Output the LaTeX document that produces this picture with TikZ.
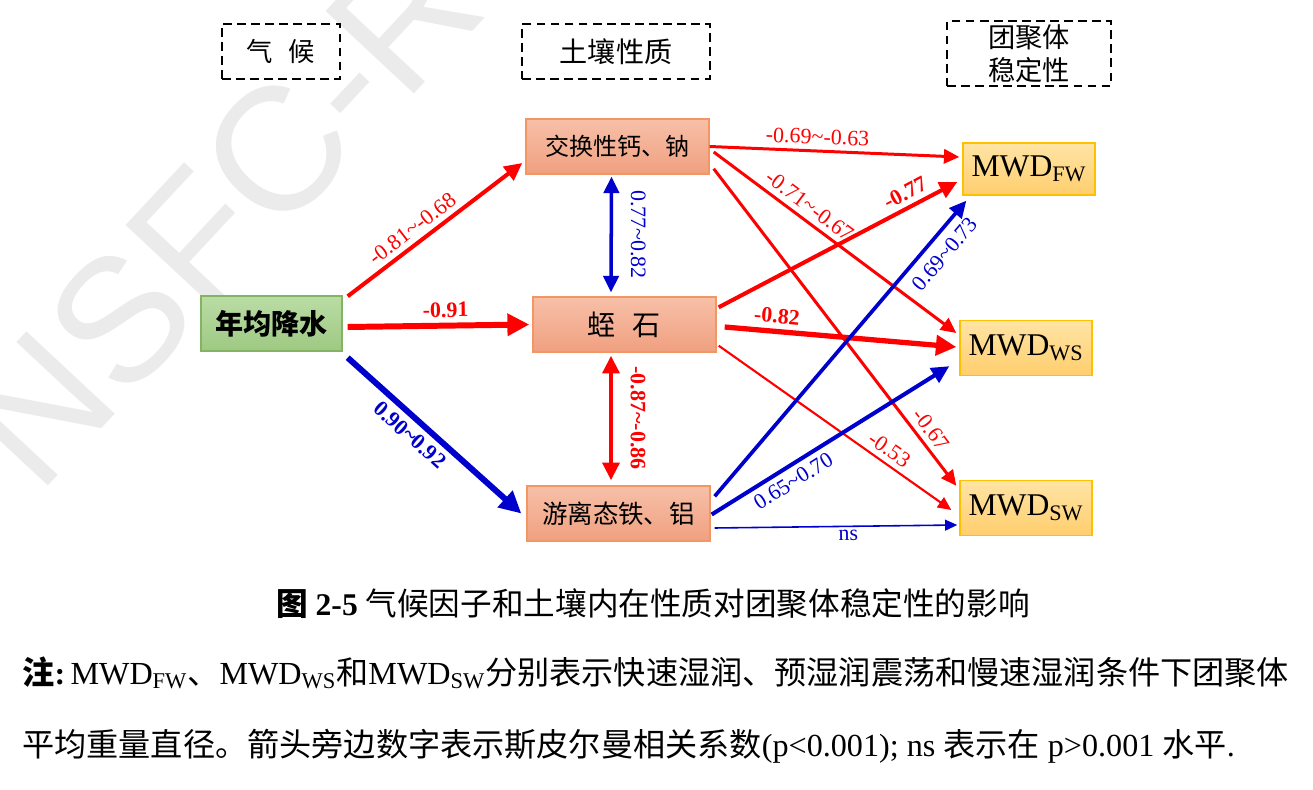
\documentclass[tikz,border=0pt]{standalone}
\usepackage{fontspec}
\setmainfont{Liberation Serif}
\newfontfamily\cjk{Noto Sans CJK SC}
\newfontfamily\wmfont{Liberation Sans}
\usetikzlibrary{arrows.meta}

\definecolor{rd}{RGB}{255,0,0}
\definecolor{bl}{RGB}{0,0,204}
\definecolor{grnT}{RGB}{186,220,165}
\definecolor{grnB}{RGB}{158,201,130}
\definecolor{grnD}{RGB}{130,180,100}
\definecolor{salT}{RGB}{247,192,168}
\definecolor{salB}{RGB}{240,160,128}
\definecolor{salD}{RGB}{244,150,100}
\definecolor{golT}{RGB}{255,228,165}
\definecolor{golB}{RGB}{255,206,110}
\definecolor{golD}{RGB}{255,192,0}
\newcommand{\tld}{\textasciitilde}

\begin{document}
\begin{tikzpicture}[
  x=0.02cm, y=-0.02cm,
  hdr/.style={draw, line width=1.1pt, dash pattern=on 5pt off 3pt, align=center,
              inner sep=2pt, font=\cjk\fontsize{15}{17}\selectfont},
  var/.style={draw, line width=0.8pt, align=center, inner sep=2pt, minimum height=1.1cm},
  clim/.style={var, top color=grnT, bottom color=grnB, draw=grnD},
  soilp/.style={var, top color=salT, bottom color=salB, draw=salD, minimum width=3.66cm},
  mwd/.style={var, top color=golT, bottom color=golB, draw=golD, minimum width=2.64cm,
              font=\fontsize{18}{20}\selectfont},
  fl/.style={line width=#1, -{Triangle[length=5pt 2.2, width=4pt 2.4]}},
  dfl/.style={line width=#1, {Triangle[length=5pt 2.2, width=4pt 2.4]}-{Triangle[length=5pt 2.2, width=4pt 2.4]}},
  lab/.style={font=\fontsize{12.5}{14}\selectfont, inner sep=3pt},
  blab/.style={font=\fontsize{12.5}{14}\selectfont\bfseries, inner sep=3pt},
  wm/.style={font=\wmfont\fontsize{100}{100}\selectfont, text=black!8, inner sep=0pt}
]
\useasboundingbox (0,0) rectangle (1313,790);

% ---------- watermark ----------
\begin{scope}
  \clip (0,0) rectangle (1313,790);
  \node[wm, rotate=47, anchor=base west] (wmk) at (38,497) {NSFC-R};
\end{scope}

% ---------- group headings ----------
\node[hdr, minimum width=2.36cm, minimum height=1.1cm] (hclim) at (281,51.5) {气\hspace{0.6em}候};
\node[hdr, minimum width=3.76cm, minimum height=1.1cm, font=\cjk\fontsize{16}{18}\selectfont] (hsoil) at (616,51.5) {土壤性质};
\node[hdr, minimum width=3.28cm, minimum height=1.3cm, font=\cjk\fontsize{15.5}{18.5}\selectfont] (hagg) at (1029,53.5) {团聚体\\稳定性};

% ---------- variables ----------
\node[clim, minimum width=2.82cm, font=\cjk\bfseries\fontsize{16}{18}\selectfont] (prec) at (271.5,323.5) {年均降水};
\node[soilp, font=\cjk\fontsize{13.7}{16}\selectfont] (exch) at (617.5,146.5) {交换性钙、钠};
\node[soilp, font=\cjk\fontsize{16}{18}\selectfont] (verm) at (624.5,324.5) {蛭\hspace{0.6em}石};
\node[soilp, font=\cjk\fontsize{14.5}{16}\selectfont] (feal) at (618.5,513.5) {游离态铁、铝};
\node[mwd, minimum height=1.04cm] (fw) at (1029,169) {MWD\textsubscript{FW}};
\node[mwd] (ws) at (1026,348) {MWD\textsubscript{WS}};
\node[mwd] (sw) at (1026,508) {MWD\textsubscript{SW}};

% ---------- climate to soil properties ----------
\draw[fl=2.3pt, rd] ([shift={(5,1)}]prec.north east) -- node[lab, sloped, above, pos=.42] (l1) {-0.81\tld-0.68} ([shift={(-3,16.5)}]exch.west);
\draw[fl=3.4pt, rd] ([shift={(5,3.5)}]prec.east) -- node[blab, sloped, above, pos=.54] (l2) {-0.91} ([shift={(-3,0)}]verm.west);
\draw[fl=3.4pt, bl] ([shift={(5,6)}]prec.south east) -- node[blab, sloped, below, pos=.42] (l3) {0.90\tld0.92} ([shift={(-5,0)}]feal.west);

% ---------- correlations among soil properties ----------
\draw[dfl=2pt, bl] ([shift={(-6,2)}]exch.south) -- node[lab, pos=.5, xshift=0.54cm, rotate=-90] (l4) {0.77\tld0.82} ([shift={(-13.5,-4)}]verm.north);
\draw[dfl=2.3pt, rd] ([shift={(-13.5,3)}]verm.south) -- node[blab, pos=.5, xshift=0.54cm, rotate=-90] (l5) {-0.87\tld-0.86} ([shift={(-7.5,-5)}]feal.north);

% ---------- soil properties to aggregate stability ----------
\draw[fl=1.7pt, rd] (exch.east) -- node[lab, sloped, above, pos=.43] (l6) {-0.69\tld-0.63} ([shift={(-3,-12)}]fw.west);
\draw[fl=1.7pt, rd] ([shift={(4,5.5)}]exch.east) -- node[lab, sloped, above, pos=.36] (l7) {-0.71\tld-0.67} ([shift={(-3,-15)}]ws.west);
\draw[fl=1.7pt, rd] ([shift={(4,-6)}]exch.south east) -- node[lab, sloped, above, pos=.85] (l8) {-0.67} ([shift={(-3,6)}]sw.north west);
\draw[fl=2.3pt, rd] ([shift={(2,11)}]verm.north east) -- node[blab, sloped, above, pos=.81] (l9) {-0.77} ([shift={(-5,13)}]fw.west);
\draw[fl=3pt, rd] ([shift={(8,2.5)}]verm.east) -- node[blab, sloped, above, pos=.22] (l10) {-0.82} ([shift={(-3,-1)}]ws.west);
\draw[fl=1.2pt, rd] ([shift={(2,-7)}]verm.south east) -- node[lab, sloped, above, pos=.70] (l11) {-0.53} ([shift={(-8,2)}]sw.west);
\draw[fl=2.1pt, bl] ([shift={(4,11)}]feal.north east) -- node[lab, sloped, below, pos=.86, inner sep=5pt] (l12) {0.69\tld0.73} ([shift={(4,5)}]fw.south west);
\draw[fl=2.3pt, bl] ([shift={(1,1)}]feal.east) -- node[lab, sloped, below, pos=.31] (l13) {0.65\tld0.70} ([shift={(-10,-10)}]ws.south west);
\draw[fl=0.9pt, bl] ([shift={(4,14.5)}]feal.east) -- node[lab, sloped, below, pos=.55, inner sep=1.5pt] (l14) {ns} ([shift={(-2,17)}]sw.west);

% ---------- caption and note ----------
\node[font=\fontsize{18}{20}\selectfont] (capt) at (653,604)
  {{\cjk\bfseries 图} \textbf{2-5} {\cjk 气候因子和土壤内在性质对团聚体稳定性的影响}};
\node[anchor=west, inner sep=0pt, font=\fontsize{18.3}{20}\selectfont] (note1) at (22,673)
  {{\cjk\bfseries 注}\textbf{:}\,MWD\textsubscript{FW}{\cjk 、}MWD\textsubscript{WS}{\cjk 和}MWD\textsubscript{SW}{\cjk 分别表示快速湿润、预湿润震荡和慢速湿润条件下团聚体}};
\node[anchor=west, inner sep=0pt, font=\fontsize{18.3}{20}\selectfont] (note2) at (22,746)
  {{\cjk 平均重量直径。箭头旁边数字表示斯皮尔曼相关系数}(p<0.001); ns {\cjk 表示在} p>0.001 {\cjk 水平}.};
\end{tikzpicture}
\end{document}
